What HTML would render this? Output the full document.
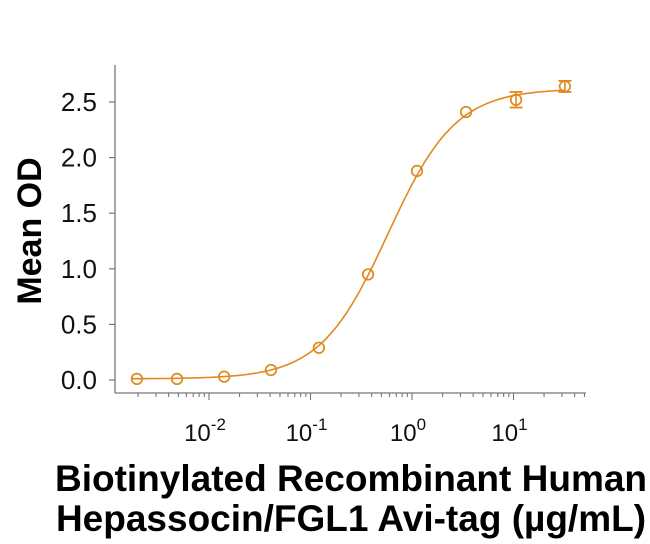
<!DOCTYPE html>
<html><head><meta charset="utf-8"><style>
body{margin:0;background:#fff;}
svg{display:block;font-family:"Liberation Sans",Arial,sans-serif;}
</style></head><body>
<svg id="chart" width="650" height="544" viewBox="0 0 650 544"></svg>
<script>
const concentrations=[0.00195,0.00484,0.0141,0.0408,0.121,0.369,1.12,3.41,10.6,32.1];
const meanOD=[0.01,0.01,0.03,0.09,0.29,0.95,1.88,2.41,2.52,2.64];
const errorOD=[0.01,0.01,0.01,0.01,0.01,0.02,0.02,0.02,0.07,0.05];
const yTicks=[0,0.5,1.0,1.5,2.0,2.5];
const yTickLabels=["0.0","0.5","1.0","1.5","2.0","2.5"];
const xDecades=[-2,-1,0,1];
const fit={bottom:0.01,top:2.62,ec50:0.58,hill:1.3};

const NS="http://www.w3.org/2000/svg";
const svg=document.getElementById('chart');
const C="#e08a1e";
const xs=v=>412+(Math.log10(v))*101.5;
const ys=v=>380-v*111.2;
function mk(tag,attrs,parent){const e=document.createElementNS(NS,tag);for(const k in attrs)e.setAttribute(k,attrs[k]);(parent||svg).appendChild(e);return e;}

let a=mk('line',{x1:115,y1:65,x2:115,y2:393,stroke:'#777','stroke-width':1.3});

a=mk('line',{x1:115,y1:393,x2:586,y2:393,stroke:'#777','stroke-width':1.3});


yTicks.forEach((t,i)=>{
  const y=ys(t);
  const l=mk('line',{x1:109,y1:y,x2:115,y2:y,stroke:'#777','stroke-width':1.2});
  
  const tx=mk('text',{x:97,y:y+9,'text-anchor':'end','font-size':26,fill:'#111'});
  tx.textContent=yTickLabels[i];
  
});
for(let d=-3;d<=1;d++){for(let m=1;m<=9;m++){
  const v=m*Math.pow(10,d);const x=xs(v);
  if(x<130||x>586)continue;
  const l=mk('line',{x1:x,y1:393,x2:x,y2:m===1?400:397,stroke:'#777','stroke-width':1.1});
  
}}
xDecades.forEach(d=>{
  const x=xs(Math.pow(10,d));
  const t=mk('text',{x:x-4,y:441,'text-anchor':'middle','font-size':24,fill:'#111'});
  
  t.appendChild(document.createTextNode('10'));
  const s=document.createElementNS(NS,'tspan');s.setAttribute('dy','-11');s.setAttribute('font-size','17');s.textContent=String(d);t.appendChild(s);
});

let p='';
for(let lx=Math.log10(0.0017);lx<=Math.log10(33);lx+=0.02){
  const v=Math.pow(10,lx);
  const r=Math.pow(v/fit.ec50,fit.hill);
  const y=fit.bottom+(fit.top-fit.bottom)*r/(1+r);
  p+=(p?'L':'M')+xs(v).toFixed(1)+','+ys(y).toFixed(1);
}
const curve=mk('path',{d:p,fill:'none',stroke:C,'stroke-width':1.6});


concentrations.forEach((c,i)=>{
  const x=xs(c),y=ys(meanOD[i]);
  const g=mk('g',{});
  
  const e=errorOD[i];
  if(e>0.02){
    const y1=ys(meanOD[i]+e),y2=ys(meanOD[i]-e);
    mk('line',{x1:x,y1:y1,x2:x,y2:y2,stroke:C,'stroke-width':1.6},g);
    mk('line',{x1:x-6.5,y1:y1,x2:x+6.5,y2:y1,stroke:C,'stroke-width':1.8},g);
    mk('line',{x1:x-6.5,y1:y2,x2:x+6.5,y2:y2,stroke:C,'stroke-width':1.8},g);
  }
  mk('circle',{cx:x,cy:y,r:5.3,fill:'none',stroke:C,'stroke-width':1.7},g);
});

let t=mk('text',{x:0,y:0,transform:'translate(41,231) rotate(-90)','text-anchor':'middle','font-size':34,'font-weight':'bold',fill:'#000'});
t.textContent='Mean OD';
t=mk('text',{x:351,y:491,'text-anchor':'middle','font-size':37,'font-weight':'bold',fill:'#000'});
t.textContent='Biotinylated Recombinant Human';
t=mk('text',{x:351,y:531,'text-anchor':'middle','font-size':37,'font-weight':'bold',fill:'#000'});
t.textContent='Hepassocin/FGL1 Avi-tag (µg/mL)';
</script>
</body></html>
